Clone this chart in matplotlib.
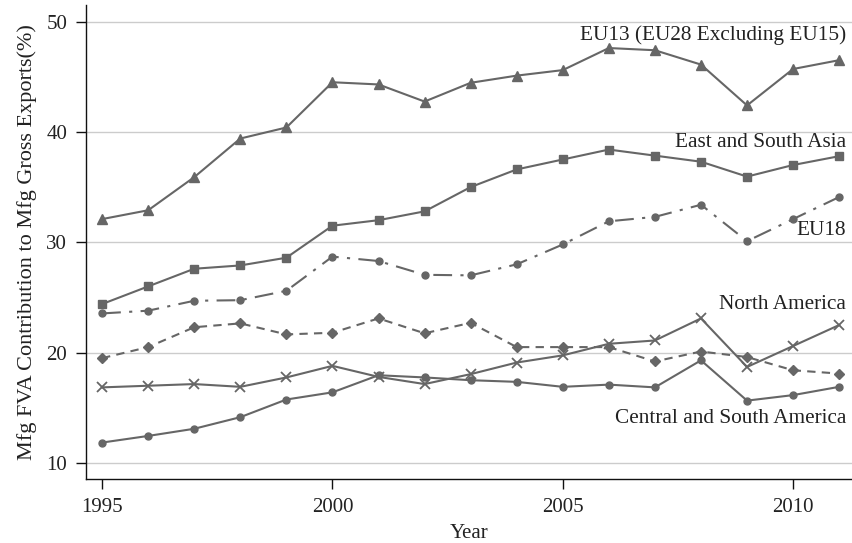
import matplotlib
matplotlib.use("Agg")
import matplotlib.pyplot as plt

years = list(range(1995, 2012))
eu13 = [32.1, 32.9, 35.9, 39.4, 40.4, 44.5, 44.3, 42.75, 44.45, 45.1, 45.6, 47.6, 47.4, 46.1, 42.4, 45.7, 46.5]
esasia = [24.4, 26.0, 27.6, 27.9, 28.6, 31.5, 32.0, 32.8, 35.0, 36.6, 37.5, 38.4, 37.85, 37.3, 35.95, 37.0, 37.8]
eu18 = [23.55, 23.8, 24.7, 24.75, 25.6, 28.7, 28.3, 27.05, 27.0, 28.0, 29.8, 31.9, 32.3, 33.4, 30.1, 32.1, 34.1]
other = [19.5, 20.5, 22.3, 22.65, 21.65, 21.8, 23.1, 21.75, 22.7, 20.5, 20.5, 20.5, 19.2, 20.1, 19.6, 18.4, 18.1]
namerica = [16.85, 17.0, 17.15, 16.9, 17.75, 18.8, 17.8, 17.15, 18.05, 19.1, 19.75, 20.8, 21.1, 23.1, 18.7, 20.6, 22.5]
csamerica = [11.85, 12.45, 13.1, 14.15, 15.75, 16.4, 17.95, 17.75, 17.5, 17.35, 16.9, 17.1, 16.85, 19.3, 15.65, 16.15, 16.9]

labels = ["EU13 (EU28 Excluding EU15)", "East and South Asia", "EU18", "North America", "Central and South America"]
label_y = [48.8, 39.0, 31.1, 24.4, 14.0]
yticks = [10, 20, 30, 40, 50]
xticks = [1995, 2000, 2005, 2010]

plt.rcParams['font.family'] = ['Liberation Serif', 'DejaVu Serif']
fig = plt.figure(figsize=(8.53, 5.43), dpi=100)
ax = fig.add_axes([0.1008, 0.1173, 0.8992, 0.8735])

c = '#666666'
lw = 1.5
ax.plot(years, eu13, color=c, lw=lw, marker='^', ms=7.5)
ax.plot(years, esasia, color=c, lw=lw, marker='s', ms=5.5)
ax.plot(years, eu18, color=c, lw=lw, marker='o', ms=5, dashes=(9, 4, 1.5, 4))
ax.plot(years, other, color=c, lw=lw, marker='D', ms=5.5, dashes=(4, 3))
ax.plot(years, namerica, color=c, lw=lw, marker='x', ms=7, mew=1.3)
ax.plot(years, csamerica, color=c, lw=lw, marker='o', ms=5)

for t, yv in zip(labels, label_y):
    ax.text(2011.15, yv, t, ha='right', va='center', fontsize=15.3, color='#222222')

ax.set_xlim(1994.65, 2011.3)
ax.set_ylim(8.52, 51.5)
ax.set_yticks(yticks)
ax.set_xticks(xticks)
ax.grid(axis='y', color='#cccccc', lw=1.0)
ax.set_axisbelow(True)
for s in ['top', 'right']:
    ax.spines[s].set_visible(False)
for s in ['left', 'bottom']:
    ax.spines[s].set_color('#111111')
    ax.spines[s].set_linewidth(1.0)
ax.tick_params(axis='both', direction='out', length=7.5, width=1.0, color='#111111', labelsize=15, labelcolor='#222222')
ax.tick_params(axis='y', pad=6)
ax.tick_params(axis='x', pad=6)
ax.set_xlabel('Year', fontsize=15, color='#222222', labelpad=5)
ax.set_ylabel('Mfg FVA Contribution to Mfg Gross Exports(%)', fontsize=16, color='#222222', labelpad=7)

fig.savefig('out.png', dpi=100)
